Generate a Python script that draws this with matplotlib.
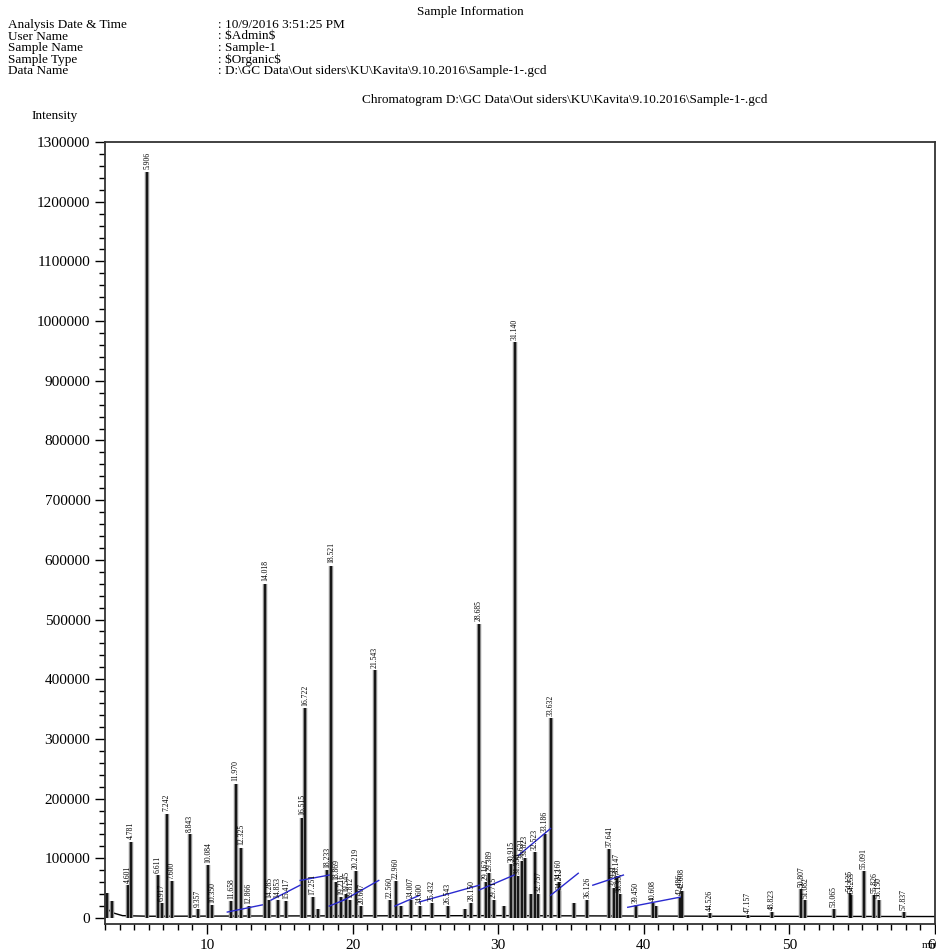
import matplotlib
matplotlib.use("Agg")
import matplotlib.pyplot as plt
from matplotlib.ticker import MultipleLocator

plt.rcParams['font.family'] = ['Liberation Serif', 'DejaVu Serif']

# header block
info_keys = ["Analysis Date & Time", "User Name", "Sample Name", "Sample Type", "Data Name"]
info_vals = [": 10/9/2016 3:51:25 PM", ": $Admin$", ": Sample-1", ": $Organic$",
             ": D:\\GC Data\\Out siders\\KU\\Kavita\\9.10.2016\\Sample-1-.gcd"]
chrom_title = "Chromatogram D:\\GC Data\\Out siders\\KU\\Kavita\\9.10.2016\\Sample-1-.gcd"

# peaks: retention time (min), intensity, label
peak_rt = [3.15, 3.45, 4.601, 4.781, 5.906, 6.611, 6.917, 7.242, 7.600, 8.843,
           9.357, 10.084, 10.350, 11.658, 11.970, 12.325, 12.866, 14.018, 14.285, 14.853,
           15.417, 16.515, 16.722, 17.251, 17.600, 18.233, 18.521, 18.869, 19.216, 19.545,
           19.812, 20.219, 20.607, 21.543, 22.560, 22.960, 23.300, 24.007, 24.600, 25.432,
           26.543, 27.700, 28.150, 28.685, 29.162, 29.389, 29.715, 30.400, 30.915, 31.140,
           31.350, 31.631, 31.823, 32.250, 32.523, 32.757, 33.186, 33.632, 34.160, 34.212,
           35.200, 36.126, 37.641, 37.931, 38.147, 38.357, 39.450, 40.608, 40.808, 42.486,
           42.608, 44.526, 47.157, 48.823, 50.807, 51.082, 53.065, 54.135, 54.253, 55.091,
           55.826, 56.150, 57.837]
peak_h = [42000, 28000, 55000, 128000, 1250000, 72000, 25000, 175000, 62000, 140000,
          15000, 88000, 22000, 28000, 225000, 118000, 20000, 560000, 30000, 30000,
          28000, 168000, 352000, 35000, 15000, 80000, 590000, 60000, 35000, 40000,
          30000, 78000, 20000, 415000, 30000, 62000, 20000, 30000, 20000, 25000,
          20000, 15000, 25000, 493000, 60000, 75000, 30000, 20000, 90000, 965000,
          70000, 95000, 100000, 40000, 110000, 40000, 140000, 335000, 60000, 45000,
          25000, 30000, 115000, 50000, 70000, 40000, 22000, 25000, 20000, 35000,
          45000, 8000, 5000, 10000, 48000, 30000, 15000, 42000, 38000, 78000,
          38000, 30000, 10000]
peak_lbl = ["", "", "4.601", "4.781", "5.906", "6.611", "6.917", "7.242", "7.600", "8.843",
            "9.357", "10.084", "10.350", "11.658", "11.970", "12.325", "12.866", "14.018", "14.285", "14.853",
            "15.417", "16.515", "16.722", "17.251", "", "18.233", "18.521", "18.869", "19.216", "19.545",
            "19.812", "20.219", "20.607", "21.543", "22.560", "22.960", "", "24.007", "24.600", "25.432",
            "26.543", "", "28.150", "28.685", "29.162", "29.389", "29.715", "", "30.915", "31.140",
            "31.350", "31.631", "31.823", "", "32.523", "32.757", "33.186", "33.632", "34.160", "34.212",
            "", "36.126", "37.641", "37.931", "38.147", "38.357", "39.450", "40.608", "", "42.486",
            "42.608", "44.526", "47.157", "48.823", "50.807", "51.082", "53.065", "54.135", "54.253", "55.091",
            "55.826", "56.150", "57.837"]

# trace baseline
base_t = [3.0, 3.5, 4.2, 6.0, 15.0, 30.0, 45.0, 60.0]
base_y = [18000, 9000, 4000, 3000, 3500, 4000, 3000, 2500]

# blue integration baselines
bl_t0 = [11.4, 14.4, 16.4, 18.4, 19.4, 22.9, 24.6, 28.7, 31.4, 33.6, 36.5, 38.9]
bl_y0 = [10000, 30000, 63000, 20000, 30000, 20000, 27000, 47000, 105000, 38000, 55000, 18000]
bl_t1 = [13.8, 16.4, 18.4, 19.4, 21.8, 24.6, 28.7, 31.1, 33.6, 35.5, 38.6, 42.5]
bl_y1 = [22000, 55000, 72000, 30000, 63000, 38000, 55000, 72000, 150000, 75000, 72000, 35000]

fig = plt.figure(figsize=(9.36, 9.5), dpi=100)

fig.text(470 / 936, 1 - 12 / 950, "Sample Information", ha='center', va='center', fontsize=9.5)
for i, (k, v) in enumerate(zip(info_keys, info_vals)):
    yy = 1 - (25 + i * 11.5) / 950
    fig.text(8 / 936, yy, k, ha='left', va='center', fontsize=9.5)
    fig.text(218 / 936, yy, v, ha='left', va='center', fontsize=9.5, parse_math=False)
fig.text(565 / 936, 1 - 100 / 950, chrom_title, ha='center', va='center', fontsize=9.5)
fig.text(55 / 936, 1 - 116 / 950, "Intensity", ha='center', va='center', fontsize=9.5)
fig.text(930 / 936, 1 - 946 / 950, "min", ha='center', va='center', fontsize=8)

ax = fig.add_axes([105 / 936, 1 - 924 / 950, 830 / 936, 782 / 950])

ax.plot(base_t, base_y, color='black', lw=1)
ax.vlines(peak_rt, 0, peak_h, color='0.55', lw=3.2)
ax.vlines(peak_rt, 0, peak_h, color='black', lw=1.2)
for t0, y0, t1, y1 in zip(bl_t0, bl_y0, bl_t1, bl_y1):
    ax.plot([t0, t1], [y0, y1], color='#2a2ad0', lw=1)
for t, h, s in zip(peak_rt, peak_h, peak_lbl):
    if s:
        ax.text(t, h + 4000, s, rotation=90, ha='center', va='bottom', fontsize=5.5)

ax.set_xlim(3, 60)
ax.set_ylim(-10000, 1300000)
ax.xaxis.set_major_locator(MultipleLocator(10))
ax.xaxis.set_minor_locator(MultipleLocator(1))
ax.yaxis.set_major_locator(MultipleLocator(100000))
ax.yaxis.set_minor_locator(MultipleLocator(20000))
ax.tick_params(axis='both', which='major', length=7, width=1, labelsize=11, direction='out')
ax.tick_params(axis='both', which='minor', length=4, width=1, direction='out')
ax.yaxis.set_major_formatter(plt.FuncFormatter(lambda v, p: "%d" % v))
for sp in ax.spines.values():
    sp.set_color('#333333')
    sp.set_linewidth(1.3)

fig.savefig("out.png", dpi=100)
